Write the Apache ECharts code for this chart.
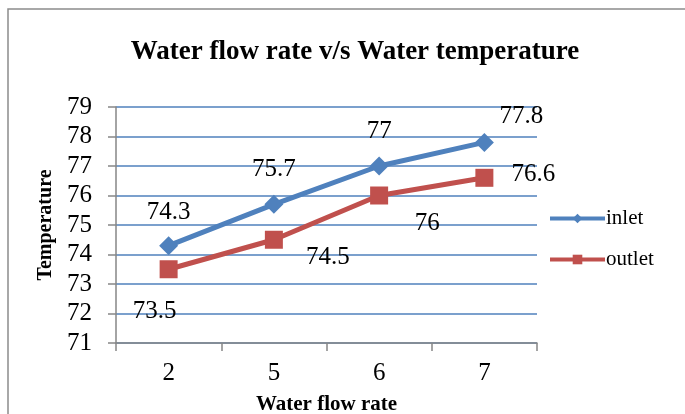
<!DOCTYPE html>
<html>
<head>
<meta charset="utf-8">
<script src="https://cdn.jsdelivr.net/npm/echarts@6/dist/echarts.min.js"></script>
<style>
  html, body { margin: 0; padding: 0; background: #fff; }
  #chart { width: 685px; height: 414px; }
</style>
</head>
<body>
<div id="chart"></div>
<script>
// Flow rate categories and measured temperatures
const flowRates = ['2', '5', '6', '7'];
const inletTemps = [74.3, 75.7, 77, 77.8];
const outletTemps = [73.5, 74.5, 76, 76.6];
const yTicks = { min: 71, max: 79, step: 1 };

const SERIF = '"Liberation Serif", "Times New Roman", serif';
const BLUE = '#4F81BD';
const RED = '#C0504D';
const AXIS_GRAY = '#868686';

// Label placement offsets (pixels) for each point of each series
const inletLabelShift = [[0, -33], [0, -35], [0, -35], [37, -26]];
const outletLabelShift = [[-14, 42], [54, 18], [48, 28], [49, -3]];

function withLabels(values, shifts) {
  return values.map((v, i) => ({
    value: v,
    label: { offset: shifts[i] }
  }));
}

const chart = echarts.init(document.getElementById('chart'), null, { renderer: 'canvas' });

chart.setOption({
  animation: false,
  backgroundColor: '#fff',
  textStyle: { fontFamily: SERIF },
  graphic: [{
    type: 'rect',
    shape: { x: 8, y: 9, width: 720, height: 440 },
    style: { fill: 'none', stroke: '#8c8c8c', lineWidth: 1.5 },
    silent: true,
    z: -1
  }],
  title: {
    text: 'Water flow rate v/s Water temperature',
    left: 350,
    top: 34,
    textAlign: 'center',
    textStyle: { fontFamily: SERIF, fontWeight: 'bold', fontSize: 27, color: '#000' }
  },
  legend: {
    orient: 'vertical',
    left: 543,
    top: 203,
    itemWidth: 55,
    itemHeight: 12,
    itemGap: 20,
    lineStyle: { width: 4 },
    textStyle: { fontFamily: SERIF, fontSize: 21, color: '#000', padding: [0, 0, 0, -4] },
    data: ['inlet', 'outlet']
  },
  grid: { left: 116, right: 148, top: 107, bottom: 71, containLabel: false, outerBoundsMode: 'none' },
  xAxis: {
    type: 'category',
    data: flowRates,
    boundaryGap: true,
    name: 'Water flow rate',
    nameLocation: 'middle',
    nameGap: 51,
    nameTextStyle: { fontFamily: SERIF, fontWeight: 'bold', fontSize: 21, color: '#000' },
    axisLine: { lineStyle: { color: AXIS_GRAY, width: 1.5 } },
    axisTick: { show: true, alignWithLabel: false, length: 8, lineStyle: { color: AXIS_GRAY, width: 1.5 } },
    axisLabel: { fontFamily: SERIF, fontSize: 25, color: '#000', margin: 18 },
    splitLine: { show: false }
  },
  yAxis: {
    type: 'value',
    min: yTicks.min,
    max: yTicks.max,
    interval: yTicks.step,
    name: 'Temperature',
    nameLocation: 'middle',
    nameRotate: 90,
    nameGap: 60,
    nameTextStyle: { fontFamily: SERIF, fontWeight: 'bold', fontSize: 20, color: '#000' },
    axisLine: { show: true, lineStyle: { color: AXIS_GRAY, width: 1.5 } },
    axisTick: { show: true, length: 8, lineStyle: { color: AXIS_GRAY, width: 1.5 } },
    axisLabel: { fontFamily: SERIF, fontSize: 25, color: '#000', margin: 24, align: 'right' },
    splitLine: { show: true, lineStyle: { color: BLUE, width: 1.5 } }
  },
  series: [
    {
      name: 'inlet',
      type: 'line',
      data: withLabels(inletTemps, inletLabelShift),
      symbol: 'diamond',
      symbolSize: 19,
      showAllSymbol: true,
      lineStyle: { color: BLUE, width: 5 },
      itemStyle: { color: BLUE },
      label: {
        show: true,
        position: 'inside',
        fontFamily: SERIF,
        fontSize: 25,
        color: '#000'
      },
      z: 3
    },
    {
      name: 'outlet',
      type: 'line',
      data: withLabels(outletTemps, outletLabelShift),
      symbol: 'rect',
      symbolSize: 18,
      showAllSymbol: true,
      lineStyle: { color: RED, width: 5 },
      itemStyle: { color: RED },
      label: {
        show: true,
        position: 'inside',
        fontFamily: SERIF,
        fontSize: 25,
        color: '#000'
      },
      z: 2
    }
  ]
});
</script>
</body>
</html>
